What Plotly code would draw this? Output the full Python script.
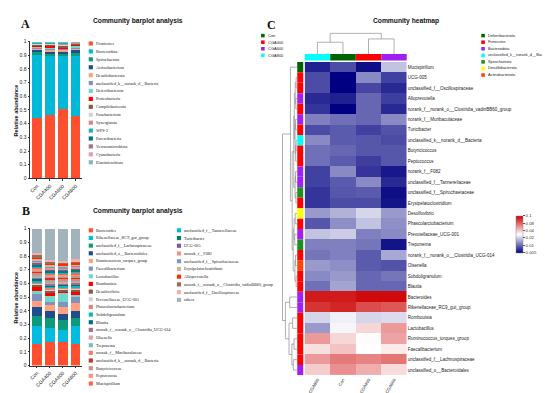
import numpy as np
import plotly.graph_objects as go

W, H = 550, 393
def px(x): return x / W
def py(y): return 1 - y / H

# ---------------- Panel A data (phylum) ----------------
groups = ["Con", "CGA400", "CGA600", "CGA800"]
phyla = ["Firmicutes", "Bacteroidota", "Spirochaetota", "Actinobacteriota", "Desulfobacterota",
         "unclassified_k__norank_d__Bacteria", "Deferribacterota", "Proteobacteria", "Campilobacterota",
         "Fusobacteriota", "Synergistota", "WPS-2", "Patescibacteria", "Verrucomicrobiota",
         "Cyanobacteria", "Elusimicrobiota"]
phylum_colors = ["#FF4F30", "#00B8D8", "#0E9A7A", "#1F4E8C", "#FFA080", "#7F93C0", "#6FD8C8", "#FF0000",
                 "#8B5A3C", "#D3D3D3", "#D98880", "#12B5B0", "#00707C", "#A0708A", "#E0A0A8", "#80B8C8"]
a_con    = [.440, .460, .022, .015, .015, .010, .005, .010, .004, .006, .004, .003, .002, .002, .001, .001]
a_cga400 = [.460, .435, .020, .012, .020, .008, .008, .012, .005, .006, .004, .003, .003, .002, .001, .001]
a_cga600 = [.505, .395, .008, .015, .020, .008, .004, .006, .014, .010, .005, .004, .003, .001, .001, .001]
a_cga800 = [.455, .440, .020, .022, .015, .010, .012, .010, .004, .004, .003, .002, .001, .001, .0005, .0005]

# ---------------- Panel B data (genus) ----------------
genera = ["Bacteroides", "Rikenellaceae_RC9_gut_group", "unclassified_f__Lachnospiraceae",
          "unclassified_o__Bacteroidales", "Ruminococcus_torques_group", "Faecalibacterium", "Lactobacillus",
          "Romboutsia", "Desulfovibrio", "Prevotellaceae_UCG-001", "Phascolarctobacterium", "Subdoligranulum",
          "Blautia", "norank_f__norank_o__Clostridia_UCG-014", "Olsenella", "Treponema",
          "norank_f__Muribaculaceae", "unclassified_k__norank_d__Bacteria", "Butyricicoccus", "Peptococcus",
          "Mucispirillum", "unclassified_f__Tannerellaceae", "Turicibacter", "UCG-005", "norank_f__F082",
          "unclassified_f__Spirochaetaceae", "Erysipelatoclostridium", "Alloprevotella",
          "norank_f__norank_o__Clostridia_vadinBB60_group", "unclassified_f__Oscillospiraceae", "others"]
genus_colors = ["#FF4F30", "#00BCE0", "#0E9A7A", "#1F4E8C", "#FFA080", "#7F93C0", "#6FD8C8", "#FF0000",
                "#8B5A3C", "#D3D3D3", "#D98880", "#12B5B0", "#00707C", "#A0708A", "#E0A0A8", "#80B8C8",
                "#F08060", "#C0392B", "#B89A8A", "#FF9080", "#FF6347", "#00BCD4", "#00806A", "#7B5A9A",
                "#F29090", "#7A9CC0", "#C8B89A", "#FF2A00", "#9A6A5A", "#F4B0A8", "#A3B3BC"]
b_con    = [.160, .130, .075, .065, .040, .050, .025, .025, .015, .015, .012, .012, .012, .010, .010, .010,
            .014, .010, .010, .008, .008, .012, .012, .012, .010, .010, .010, .012, .010, .016, .180]
b_cga400 = [.175, .100, .075, .050, .040, .025, .045, .020, .020, .010, .010, .010, .010, .012, .010, .010,
            .012, .010, .010, .010, .010, .010, .012, .010, .012, .010, .010, .012, .010, .010, .230]
b_cga600 = [.170, .090, .075, .040, .055, .035, .065, .015, .010, .010, .010, .010, .010, .010, .010, .010,
            .010, .010, .010, .010, .010, .010, .010, .010, .010, .010, .010, .010, .010, .010, .235]
b_cga800 = [.155, .130, .065, .050, .055, .045, .015, .025, .015, .010, .010, .010, .010, .012, .010, .010,
            .012, .010, .010, .010, .010, .010, .012, .010, .012, .010, .010, .012, .010, .010, .225]

# ---------------- Panel C data (heatmap) ----------------
hm_cols = ["CGA800", "Con", "CGA400", "CGA600"]
hm_col_colors = ["#00FFFF", "#006400", "#FF0000", "#A020F0"]
hm_rows = ["Mucispirillum", "UCG-005", "unclassified_f__Oscillospiraceae", "Alloprevotella",
           "norank_f__norank_o__Clostridia_vadinBB60_group", "norank_f__Muribaculaceae", "Turicibacter",
           "unclassified_k__norank_d__Bacteria", "Butyricicoccus", "Peptococcus", "norank_f__F082",
           "unclassified_f__Tannerellaceae", "unclassified_f__Spirochaetaceae", "Erysipelatoclostridium",
           "Desulfovibrio", "Phascolarctobacterium", "Prevotellaceae_UCG-001", "Treponema",
           "norank_f__norank_o__Clostridia_UCG-014", "Olsenella", "Subdoligranulum", "Blautia", "Bacteroides",
           "Rikenellaceae_RC9_gut_group", "Romboutsia", "Lactobacillus", "Ruminococcus_torques_group",
           "Faecalibacterium", "unclassified_f__Lachnospiraceae", "unclassified_o__Bacteroidales"]
hm_row_phylum = ["Deferribacterota", "Firmicutes", "Firmicutes", "Bacteroidota", "Firmicutes", "Bacteroidota",
                 "Firmicutes", "unclassified_k__norank_d__Bacteria", "Firmicutes", "Firmicutes", "Bacteroidota",
                 "Bacteroidota", "Spirochaetota", "Firmicutes", "Desulfobacterota", "Firmicutes", "Bacteroidota",
                 "Spirochaetota", "Firmicutes", "Actinobacteriota", "Firmicutes", "Firmicutes", "Bacteroidota",
                 "Bacteroidota", "Firmicutes", "Firmicutes", "Firmicutes", "Firmicutes", "Firmicutes",
                 "Bacteroidota"]
hm_phyla = ["Deferribacterota", "Firmicutes", "Bacteroidota", "unclassified_k__norank_d__Bacteria",
            "Spirochaetota", "Desulfobacterota", "Actinobacteriota"]
hm_phyla_colors = ["#006400", "#FF0000", "#A020F0", "#00FFFF", "#228B22", "#FFFF00", "#FF4500"]
hm_cga800 = [.0062, .0084, .0084, .0066, .0071, .0119, .0084, .0127, .0107, .0107, .0078, .0078, .0071, .0071,
             .0141, .0090, .0187, .0119, .0111, .0141, .0127, .0107, .0945, .0894, .0214, .0141, .0566, .0348,
             .0566, .0400]
hm_con    = [.0084, .0050, .0050, .0062, .0050, .0107, .0093, .0093, .0100, .0093, .0127, .0093, .0090, .0084,
             .0168, .0132, .0200, .0119, .0119, .0132, .0141, .0152, .0945, .0923, .0255, .0264, .0373, .0429,
             .0696, .0606]
hm_cga400 = [.0055, .0127, .0081, .0100, .0100, .0100, .0078, .0090, .0090, .0076, .0071, .0127, .0093, .0084,
             .0214, .0187, .0119, .0111, .0093, .0093, .0100, .0100, .0978, .0846, .0214, .0373, .0291, .0283,
             .0650, .0492]
hm_cga600 = [.0187, .0078, .0066, .0076, .0066, .0127, .0087, .0084, .0090, .0090, .0059, .0066, .0055, .0057,
             .0141, .0132, .0127, .0057, .0157, .0087, .0111, .0100, .0978, .0827, .0222, .0566, .0528, .0325,
             .0720, .0361]
cbar_ticks = [0.005, 0.01, 0.02, 0.04, 0.08, 0.1]
# dendrogram structures: [left, right, height]
row_tree = [[0, [[[[[1, 2, .06], [3, 4, .08], .12], [[5, 6, .10], [[7, 8, .06], 9, .09], .13], .18],
                   [[10, 11, .10], [12, 13, .07], .13], .22],
                  [[[14, 15, .12], [16, 17, .15], .20], [[18, 19, .10], [20, 21, .06], .14], .26], .33], .45],
            [[22, 23, .50], [[24, 25, .30], [[26, 27, .20], [28, 29, .25], .35], .55], .80], 1.0]
col_tree = [[0, 1, .57], [2, 3, .73], 1.0]

# ---------------- figure ----------------
fig = go.Figure()
SANS = "Liberation Sans"
SERIF = "Liberation Serif"
shapes, annots = [], []

for vals_name, xa, ya in [("a", "x", "y"), ("b", "x2", "y2")]:
    if vals_name == "a":
        names, cols, cols_vals = phyla, phylum_colors, [a_con, a_cga400, a_cga600, a_cga800]
    else:
        names, cols, cols_vals = genera, genus_colors, [b_con, b_cga400, b_cga600, b_cga800]
    for i, (n, c) in enumerate(zip(names, cols)):
        fig.add_trace(go.Bar(x=groups, y=[v[i] for v in cols_vals], name=n, marker_color=c,
                             marker_line_width=0, xaxis=xa, yaxis=ya, showlegend=False))

# heatmap
anchor_lv = np.linspace(0, 1, len(cbar_ticks))
def level(v):
    return np.interp(np.log10(v), np.log10(cbar_ticks), anchor_lv)
Z = np.array([[level(v) for v in col] for col in [hm_cga800, hm_con, hm_cga400, hm_cga600]]).T
fig.add_trace(go.Heatmap(
    z=Z, x=list(range(4)), y=list(range(len(hm_rows))), xaxis="x3", yaxis="y3", zmin=0, zmax=1,
    colorscale=[[0, "#000080"], [0.5, "#FFFFFF"], [1, "#CC0000"]],
    colorbar=dict(x=px(508), xanchor="left", y=py(226.6), yanchor="middle", len=37.5 / H,
                  thickness=7, xpad=0, ypad=0, outlinewidth=0.5, outlinecolor="#888",
                  tickvals=list(anchor_lv), ticktext=[str(t) for t in cbar_ticks],
                  ticks="outside", ticklen=2, tickwidth=0.5, tickcolor="#555",
                  tickfont=dict(size=4.3, family=SANS, color="#333"))))

ax_common = dict(showline=True, linecolor="#333", linewidth=0.7, ticks="outside", ticklen=2,
                 tickwidth=0.6, tickcolor="#333", tickfont=dict(size=5, family=SANS, color="#222"),
                 showgrid=False, zeroline=False, fixedrange=True)
yt = [i / 10 for i in range(11)]
ytt = ["0"] + [f"{t:.1f}" for t in yt[1:-1]] + ["1"]
layout = dict(
    width=W, height=H, margin=dict(l=0, r=0, t=0, b=0), paper_bgcolor="white", plot_bgcolor="white",
    barmode="stack", bargap=0.27,
    xaxis=dict(domain=[px(20.5), px(72.5)], anchor="y", tickangle=-45, **ax_common),
    yaxis=dict(domain=[py(170), py(31)], anchor="x", range=[0, 1.0], tickvals=yt, ticktext=ytt, **ax_common),
    xaxis2=dict(domain=[px(20.5), px(72.5)], anchor="y2", tickangle=-45, **ax_common),
    yaxis2=dict(domain=[py(360), py(221)], anchor="x2", range=[0, 1.0], tickvals=yt, ticktext=ytt, **ax_common),
    xaxis3=dict(domain=[px(295.7), px(398.3)], anchor="y3", range=[-0.5, 3.5], tickvals=list(range(4)),
                ticktext=hm_cols, tickangle=-60, showline=False, showgrid=False, zeroline=False, ticks="",
                tickfont=dict(size=4.3, family=SANS, color="#222")),
    yaxis3=dict(domain=[py(370), py(51.7)], anchor="x3", range=[len(hm_rows) - 0.5, -0.5], side="right",
                tickvals=list(range(len(hm_rows))), ticktext=hm_rows, showline=False, showgrid=False,
                zeroline=False, ticks="", tickfont=dict(size=4.5, family=SANS, color="#222")),
)

# titles and panel letters
for txt, x, y in [("Community barplot analysis", 128, 10), ("Community barplot analysis", 128, 203),
                  ("Community heatmap", 397, 10)]:
    annots.append(dict(text=f"<b>{txt}</b>", x=px(x), y=py(y), xref="paper", yref="paper", showarrow=False,
                       xanchor="center", yanchor="middle", font=dict(size=6.7, family=SANS, color="#111")))
for txt, x, y in [("A", 16, 13), ("B", 16, 203), ("C", 262, 14)]:
    annots.append(dict(text=f"<b>{txt}</b>", x=px(x), y=py(y), xref="paper", yref="paper", showarrow=False,
                       xanchor="center", yanchor="middle", font=dict(size=12, family=SERIF, color="#111")))
for y in [101, 291]:
    annots.append(dict(text="<b>Relative abundance</b>", x=px(6), y=py(y), xref="paper", yref="paper",
                       showarrow=False, textangle=-90, xanchor="center", yanchor="middle",
                       font=dict(size=5.5, family=SANS, color="#111")))

def legend(names, colors, x0, y0, step, font, size, sq=4.2):
    for i, (n, c) in enumerate(zip(names, colors)):
        y = y0 + i * step
        shapes.append(dict(type="rect", xref="paper", yref="paper", x0=px(x0), x1=px(x0 + sq),
                           y0=py(y - sq / 2), y1=py(y + sq / 2), fillcolor=c, line_width=0))
        annots.append(dict(text=n, x=px(x0 + sq + 1), y=py(y), xref="paper", yref="paper", showarrow=False,
                           xanchor="left", yanchor="middle", font=dict(size=size, family=font, color="#222")))

legend(phyla, phylum_colors, 79, 33, 8.04, SERIF, 4.2)
legend(genera[:21], genus_colors[:21], 79, 222.7, 7.78, SERIF, 4.2)
legend(genera[21:], genus_colors[21:], 167.5, 222.7, 7.85, SERIF, 4.2)
legend(groups, ["#006400", "#FF0000", "#A020F0", "#00FFFF"], 252, 25, 6.67, SANS, 4.0, sq=3.6)
legend(hm_phyla, hm_phyla_colors, 473, 25, 6.67, SANS, 3.8, sq=3.6)

# row / column annotation bars
phy_col = dict(zip(hm_phyla, hm_phyla_colors))
for i, p in enumerate(hm_row_phylum):
    shapes.append(dict(type="rect", xref="paper", yref="y3", x0=px(288.3), x1=px(294.3), y0=i - 0.5,
                       y1=i + 0.5, fillcolor=phy_col[p], line_width=0))
for j, c in enumerate(hm_col_colors):
    shapes.append(dict(type="rect", xref="x3", yref="paper", x0=j - 0.5, x1=j + 0.5, y0=py(50.2),
                       y1=py(43.7), fillcolor=c, line_width=0))

def dendro(node):
    if isinstance(node, int):
        return float(node), 0.0, []
    l, r, h = node
    pl, hl, sl = dendro(l)
    pr, hr, sr = dendro(r)
    segs = sl + sr + [(hl, pl, h, pl), (h, pl, h, pr), (hr, pr, h, pr)]
    return (pl + pr) / 2, h, segs

_, _, rsegs = dendro(row_tree)
for h0, p0, h1, p1 in rsegs:
    shapes.append(dict(type="line", xref="paper", yref="y3", x0=px(288 - h0 * 14.5), x1=px(288 - h1 * 14.5),
                       y0=p0, y1=p1, line=dict(color="#8c8c8c", width=0.7)))
_, _, csegs = dendro(col_tree)
for h0, p0, h1, p1 in csegs:
    shapes.append(dict(type="line", xref="x3", yref="paper", x0=p0, x1=p1, y0=py(43.7 - h0 * 21),
                       y1=py(43.7 - h1 * 21), line=dict(color="#8c8c8c", width=0.7)))

layout["shapes"] = shapes
layout["annotations"] = annots
fig.update_layout(**layout)
fig.write_html("out.html")
